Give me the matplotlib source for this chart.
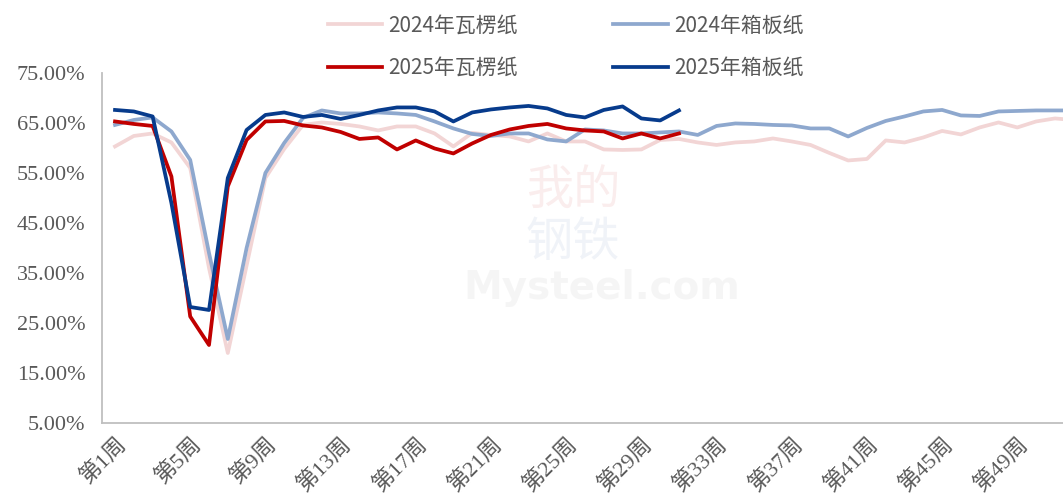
import matplotlib
matplotlib.use("Agg")
import matplotlib.pyplot as plt
import numpy as np

plt.rcParams['font.family'] = ['Liberation Serif', 'Noto Sans CJK SC', 'DejaVu Sans']

# weekly operating rates (%)
weeks_2024 = list(range(1, 53))
corr_2024 = [60.3, 62.4, 62.9, 61.1, 56.0, 36.0, 19.0, 36.5, 54.0, 59.8,
             64.6, 65.1, 64.8, 64.3, 63.5, 64.3, 64.3, 62.9, 60.3, 63.0,
             62.6, 62.3, 61.3, 62.9, 61.3, 61.3, 59.7, 59.6, 59.7, 61.6,
             61.8, 61.1, 60.6, 61.1, 61.3, 61.9, 61.3, 60.6, 59.0, 57.5,
             57.8, 61.5, 61.1, 62.1, 63.4, 62.7, 64.1, 65.1, 64.1, 65.3,
             65.9, 65.6]
board_2024 = [64.6, 65.6, 66.1, 63.3, 57.6, 39.0, 21.8, 40.0, 55.0, 61.0,
              66.0, 67.5, 66.9, 66.9, 67.1, 66.9, 66.6, 65.3, 63.9, 62.8,
              62.4, 62.9, 62.9, 61.7, 61.3, 63.7, 63.5, 62.9, 62.9, 63.1,
              63.3, 62.6, 64.4, 64.9, 64.8, 64.6, 64.5, 63.9, 63.9, 62.3,
              64.0, 65.4, 66.3, 67.3, 67.6, 66.5, 66.4, 67.3, 67.4, 67.5,
              67.5, 67.5]
weeks_2025 = list(range(1, 32))
corr_2025 = [65.3, 64.8, 64.4, 54.3, 26.3, 20.6, 52.3, 61.6, 65.3, 65.4,
             64.5, 64.1, 63.2, 61.8, 62.1, 59.7, 61.5, 59.9, 58.9, 60.9,
             62.6, 63.7, 64.4, 64.8, 63.9, 63.5, 63.3, 61.9, 62.9, 61.9,
             62.9]
board_2025 = [67.6, 67.3, 66.3, 49.0, 28.2, 27.6, 54.0, 63.6, 66.6, 67.1,
              66.2, 66.6, 65.8, 66.6, 67.5, 68.1, 68.1, 67.3, 65.3, 67.1,
              67.7, 68.1, 68.4, 67.9, 66.6, 66.1, 67.6, 68.3, 65.9, 65.5,
              67.5]

label_weeks = list(range(1, 50, 4))
tick_labels = ["第%d周" % w for w in label_weeks]
y_ticks = list(range(5, 76, 10))

fig = plt.figure(figsize=(10.63, 5.03), dpi=100)
ax = fig.add_axes([0.096, 0.159, 0.904, 0.696])

lw = 2.7
l1, = ax.plot(weeks_2024, corr_2024, color="#F2D5D5", lw=lw, label="2024年瓦楞纸")
l2, = ax.plot(weeks_2024, board_2024, color="#8EA8CE", lw=lw, label="2024年箱板纸")
l3, = ax.plot(weeks_2025, corr_2025, color="#C00000", lw=lw, label="2025年瓦楞纸")
l4, = ax.plot(weeks_2025, board_2025, color="#073B8C", lw=lw, label="2025年箱板纸")

# faint watermark
ax.text(0.49, 0.66, "我的", transform=ax.transAxes, fontsize=34, color="#C00000",
        alpha=0.07, ha="center", va="center", family=['Noto Sans CJK SC'], zorder=0)
ax.text(0.49, 0.515, "钢铁", transform=ax.transAxes, fontsize=34, color="#073B8C",
        alpha=0.06, ha="center", va="center", family=['Noto Sans CJK SC'], zorder=0)
ax.text(0.52, 0.385, "Mysteel.com", transform=ax.transAxes, fontsize=28, color="#888888",
        alpha=0.08, ha="center", va="center", weight="bold", family=['DejaVu Sans'], zorder=0)

ax.set_xlim(0.31, 51.43)
ax.set_ylim(5, 75)
ax.set_yticks(y_ticks)
ax.set_yticklabels(["%.2f%%" % v for v in y_ticks])
ax.set_xticks(label_weeks)
ax.set_xticklabels(tick_labels, rotation=45, ha="right", va="top", rotation_mode="anchor")

for s in ["top", "right"]:
    ax.spines[s].set_visible(False)
for s in ["left", "bottom"]:
    ax.spines[s].set_color("#BFBFBF")
    ax.spines[s].set_linewidth(1.3)
ax.tick_params(axis="y", length=0, pad=12, labelsize=16, labelcolor="#595959")
ax.tick_params(axis="x", length=0, pad=8, labelsize=16, labelcolor="#595959")

fig.legend(handles=[l1, l3, l2, l4], ncol=2, loc="center",
           bbox_to_anchor=(0.532, 0.907), frameon=False,
           prop={"family": ["Noto Sans CJK SC"], "size": 15},
           labelcolor="#595959", handlelength=2.6, handletextpad=0.3,
           columnspacing=4.6, labelspacing=1.0)

fig.savefig("out.png", dpi=100)
